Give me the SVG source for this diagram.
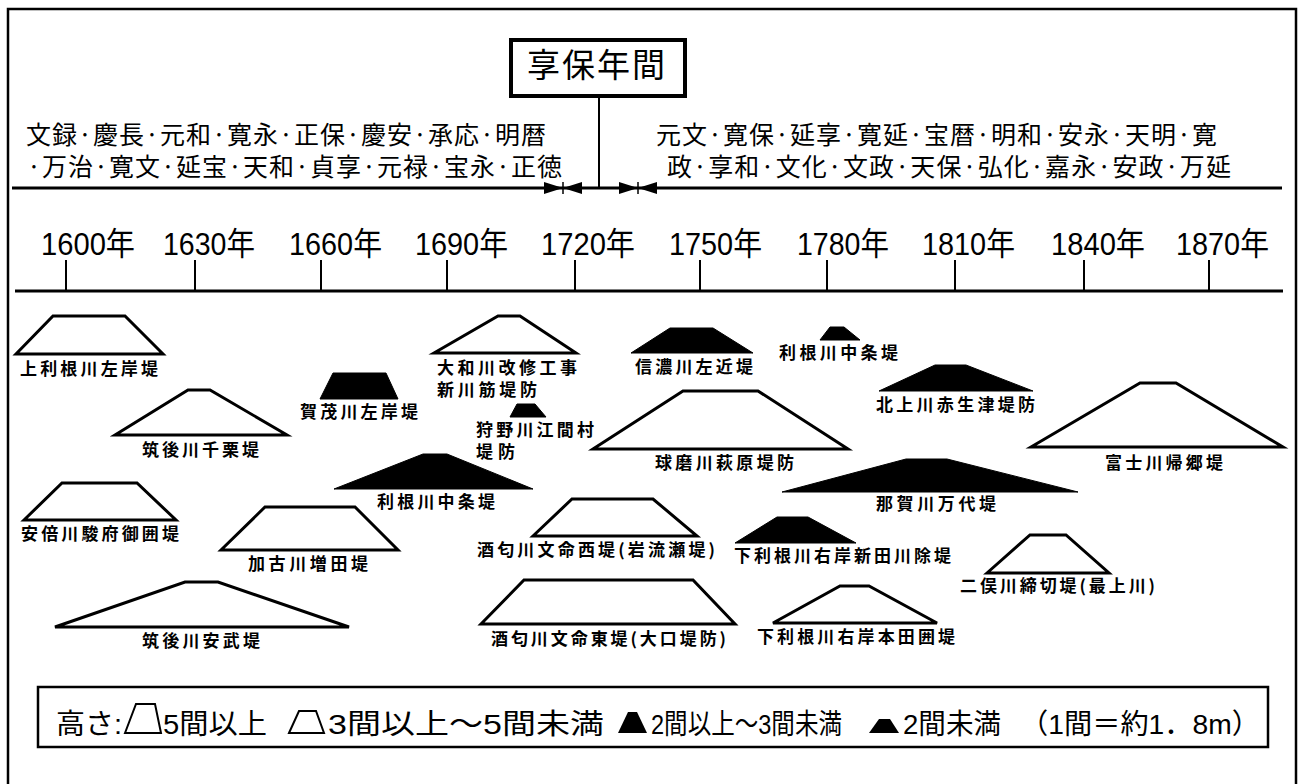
<svg xmlns="http://www.w3.org/2000/svg" width="1299" height="784" viewBox="0 0 1299 784">
<style>
.frame{fill:none;stroke:#000;stroke-width:2.5}
.ln{stroke:#000;stroke-width:3;fill:none}
.tk{stroke:#000;stroke-width:2;fill:none}
.out{fill:#fff;stroke:#000;stroke-width:3;stroke-linejoin:miter}
.blk{fill:#000;stroke:#000;stroke-width:1}
.lbl{font-family:"Noto Sans CJK JP","Noto Sans CJK SC",sans-serif;font-size:17px;font-weight:bold;fill:#000}
.era{font-family:"Noto Sans CJK JP","Noto Sans CJK SC",sans-serif;font-size:25px;fill:#000}
.yr{font-family:"Liberation Sans","Noto Sans CJK JP",sans-serif;font-size:32px;fill:#000}
.leg{font-family:"Liberation Sans","Noto Sans CJK JP",sans-serif;font-size:28px;fill:#000}
.ttl{font-family:"Noto Sans CJK JP","Noto Sans CJK SC",sans-serif;font-size:33px;fill:#000}
</style>
<defs>
<g id="bow">
<polygon points="-19,-6 -19,6 0,0" fill="#000"/>
<polygon points="19,-6 19,6 0,0" fill="#000"/>
<line x1="0" y1="-6" x2="0" y2="6" stroke="#000" stroke-width="1.5"/>
</g>
</defs>
<rect width="1299" height="784" fill="#fff"/>
<rect class="frame" x="8" y="9" width="1288" height="800"/>

<g id="title">
<rect x="511" y="40" width="174" height="56" fill="#fff" stroke="#000" stroke-width="4"/>
<text class="ttl" x="527" y="77" textLength="138" lengthAdjust="spacing">享保年間</text>
</g>

<g id="connectors">
<line class="tk" x1="599" y1="98" x2="599" y2="188"/>
<line class="ln" x1="12" y1="188" x2="1282" y2="188"/>
<use href="#bow" x="563" y="188"/>
<use href="#bow" x="638" y="188"/>
<line class="ln" x1="15" y1="291" x2="1283" y2="291"/>
<line class="tk" x1="66" y1="260" x2="66" y2="291"/>
<line class="tk" x1="195" y1="260" x2="195" y2="291"/>
<line class="tk" x1="321" y1="260" x2="321" y2="291"/>
<line class="tk" x1="447" y1="260" x2="447" y2="291"/>
<line class="tk" x1="575" y1="260" x2="575" y2="291"/>
<line class="tk" x1="700" y1="260" x2="700" y2="291"/>
<line class="tk" x1="827" y1="260" x2="827" y2="291"/>
<line class="tk" x1="955" y1="260" x2="955" y2="291"/>
<line class="tk" x1="1084" y1="260" x2="1084" y2="291"/>
<line class="tk" x1="1209" y1="260" x2="1209" y2="291"/>
</g>

<g id="eras">
<text class="era" x="26" y="144" textLength="520" lengthAdjust="spacing">文録·慶長·元和·寛永·正保·慶安·承応·明暦</text>
<text class="era" x="27" y="176" textLength="535" lengthAdjust="spacing">·万治·寛文·延宝·天和·貞享·元禄·宝永·正徳</text>
<text class="era" x="656" y="144" textLength="561" lengthAdjust="spacing">元文·寛保·延享·寛延·宝暦·明和·安永·天明·寛</text>
<text class="era" x="667" y="176" textLength="564" lengthAdjust="spacing">政·享和·文化·文政·天保·弘化·嘉永·安政·万延</text>
</g>

<g id="years">
<text class="yr" x="41" y="255" textLength="94" lengthAdjust="spacingAndGlyphs">1600年</text>
<text class="yr" x="163" y="255" textLength="92" lengthAdjust="spacingAndGlyphs">1630年</text>
<text class="yr" x="289" y="255" textLength="93" lengthAdjust="spacingAndGlyphs">1660年</text>
<text class="yr" x="415" y="255" textLength="93" lengthAdjust="spacingAndGlyphs">1690年</text>
<text class="yr" x="541" y="255" textLength="94" lengthAdjust="spacingAndGlyphs">1720年</text>
<text class="yr" x="669" y="255" textLength="93" lengthAdjust="spacingAndGlyphs">1750年</text>
<text class="yr" x="797" y="255" textLength="92" lengthAdjust="spacingAndGlyphs">1780年</text>
<text class="yr" x="922" y="255" textLength="93" lengthAdjust="spacingAndGlyphs">1810年</text>
<text class="yr" x="1051" y="255" textLength="94" lengthAdjust="spacingAndGlyphs">1840年</text>
<text class="yr" x="1176" y="255" textLength="93" lengthAdjust="spacingAndGlyphs">1870年</text>
</g>

<g id="d1"><polygon class="out" points="16,354 53,316 125,316 163,354"/><text class="lbl" x="20" y="375" textLength="138" lengthAdjust="spacing">上利根川左岸堤</text></g>
<g id="d2"><polygon class="out" points="115,435 188,390 210,390 287,435"/><text class="lbl" x="142" y="456" textLength="117" lengthAdjust="spacing">筑後川千栗堤</text></g>
<g id="d3"><polygon class="out" points="24,520 62,483 137,483 176,520"/><text class="lbl" x="21" y="540" textLength="158" lengthAdjust="spacing">安倍川駿府御囲堤</text></g>
<g id="d4"><polygon class="out" points="221,550 265,507 355,507 398,550"/><text class="lbl" x="248" y="570" textLength="120" lengthAdjust="spacing">加古川増田堤</text></g>
<g id="d5"><polygon class="out" points="55,627 185,582 218,582 349,627"/><text class="lbl" x="142" y="647" textLength="118" lengthAdjust="spacing">筑後川安武堤</text></g>
<g id="d6"><polygon class="blk" points="320,399 333,373 386,373 398,399"/><text class="lbl" x="300" y="418" textLength="118" lengthAdjust="spacing">賀茂川左岸堤</text></g>
<g id="d7"><polygon class="blk" points="334,489 423,454 447,454 533,489"/><text class="lbl" x="377" y="508" textLength="118" lengthAdjust="spacing">利根川中条堤</text></g>
<g id="d8"><polygon class="out" points="434,353 498,316 520,316 576,353"/><text class="lbl" x="437" y="374" textLength="140" lengthAdjust="spacing">大和川改修工事</text><text class="lbl" x="437" y="396" textLength="100" lengthAdjust="spacing">新川筋堤防</text></g>
<g id="d9"><polygon class="blk" points="510,417 517,404 535,404 546,417"/><text class="lbl" x="476" y="436" textLength="118" lengthAdjust="spacing">狩野川江間村</text><text class="lbl" x="476" y="458" textLength="39" lengthAdjust="spacing">堤防</text></g>
<g id="d10"><polygon class="blk" points="631,353 670,328 713,328 753,353"/><text class="lbl" x="635" y="373" textLength="118" lengthAdjust="spacing">信濃川左近堤</text></g>
<g id="d11"><polygon class="out" points="593,449 683,391 758,391 848,449"/><text class="lbl" x="655" y="469" textLength="139" lengthAdjust="spacing">球磨川萩原堤防</text></g>
<g id="d12"><polygon class="out" points="533,536 572,499 653,499 697,536"/><text class="lbl" x="477" y="556" textLength="238" lengthAdjust="spacing">酒匂川文命西堤(岩流瀬堤)</text></g>
<g id="d13"><polygon class="out" points="481,624 524,580 693,580 735,624"/><text class="lbl" x="491" y="645" textLength="235" lengthAdjust="spacing">酒匂川文命東堤(大口堤防)</text></g>
<g id="d14"><polygon class="blk" points="820,340 830,327 844,327 860,340"/><text class="lbl" x="779" y="359" textLength="119" lengthAdjust="spacing">利根川中条堤</text></g>
<g id="d15"><polygon class="blk" points="879,391 935,365 966,365 1033,391"/><text class="lbl" x="876" y="411" textLength="159" lengthAdjust="spacing">北上川赤生津堤防</text></g>
<g id="d16"><polygon class="out" points="1031,447 1140,383 1176,383 1283,447"/><text class="lbl" x="1105" y="469" textLength="118" lengthAdjust="spacing">富士川帰郷堤</text></g>
<g id="d17"><polygon class="blk" points="782,492 906,459 947,459 1078,492"/><text class="lbl" x="876" y="510" textLength="120" lengthAdjust="spacing">那賀川万代堤</text></g>
<g id="d18"><polygon class="blk" points="735,543 777,517 808,517 856,543"/><text class="lbl" x="734" y="562" textLength="217" lengthAdjust="spacing">下利根川右岸新田川除堤</text></g>
<g id="d19"><polygon class="out" points="987,573 1030,535 1066,535 1109,573"/><text class="lbl" x="960" y="592" textLength="195" lengthAdjust="spacing">二俣川締切堤(最上川)</text></g>
<g id="d20"><polygon class="out" points="773,623 840,586 869,586 937,623"/><text class="lbl" x="757" y="643" textLength="198" lengthAdjust="spacing">下利根川右岸本田囲堤</text></g>

<g id="legend">
<rect x="38" y="687" width="1230" height="60" fill="#fff" stroke="#000" stroke-width="2.5"/>
<text class="leg" x="56" y="734" textLength="66" lengthAdjust="spacingAndGlyphs">高さ:</text>
<polygon points="125,733 136,704 155,704 161,733" fill="#fff" stroke="#000" stroke-width="2"/>
<text class="leg" x="163" y="734" textLength="104" lengthAdjust="spacingAndGlyphs">5間以上</text>
<polygon points="289,733 299,711 316,711 324,733" fill="#fff" stroke="#000" stroke-width="2"/>
<text class="leg" x="328" y="734" textLength="276" lengthAdjust="spacingAndGlyphs">3間以上～5間未満</text>
<polygon points="618,733 628,712 637,712 647,733" fill="#000"/>
<text class="leg" x="651" y="734" textLength="191" lengthAdjust="spacingAndGlyphs">2間以上～3間未満</text>
<polygon points="869,733 879,719 890,719 899,733" fill="#000"/>
<text class="leg" x="903" y="734" textLength="98" lengthAdjust="spacingAndGlyphs">2間未満</text>
<text class="leg" x="1020" y="734" textLength="240" lengthAdjust="spacingAndGlyphs">（1間＝約1．8m）</text>
</g>
</svg>
